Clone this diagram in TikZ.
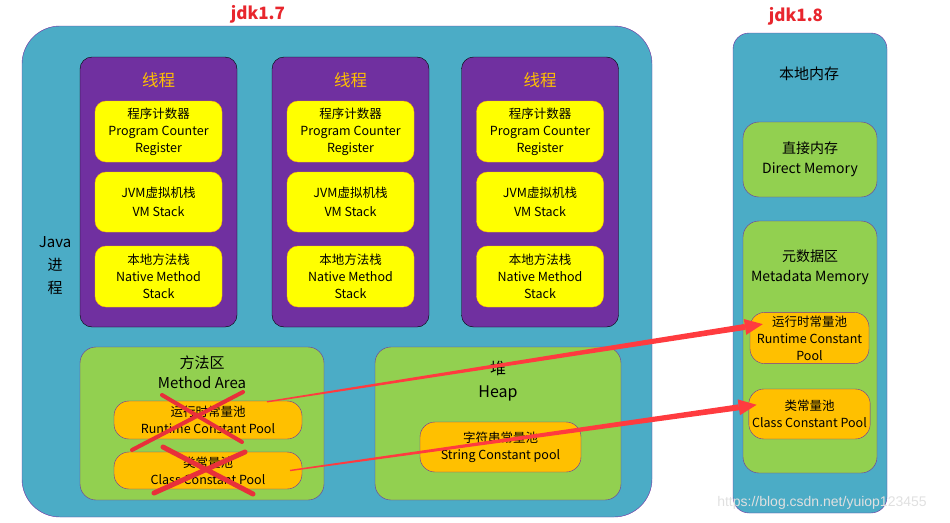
\documentclass[tikz,border=0pt]{standalone}
\usepackage{fontspec}
\setmainfont{Noto Sans CJK SC}
\newfontfamily\markfont{Liberation Sans}
\usetikzlibrary{calc}

\definecolor{procblue}{HTML}{4BACC6}
\definecolor{threadpurple}{HTML}{7030A0}
\definecolor{stackyellow}{HTML}{FFFF00}
\definecolor{areagreen}{HTML}{92D050}
\definecolor{poolorange}{HTML}{FFC000}
\definecolor{titlered}{HTML}{E8262D}
\definecolor{arrowred}{HTML}{FF3B3F}
\definecolor{crossred}{HTML}{E8303A}

\tikzset{
  process/.style={draw=threadpurple, fill=procblue, rounded corners=38pt},
  thread/.style={draw=black, fill=threadpurple, rounded corners=12pt,
    minimum width=157pt, minimum height=270pt},
  threadtitle/.style={text=poolorange, font=\fontsize{16.5}{18}\selectfont},
  stackbox/.style={draw=poolorange, fill=stackyellow, rounded corners=11pt,
    minimum width=127pt, minimum height=61pt, align=center,
    font=\fontsize{12.5}{17}\selectfont},
  areabox/.style={draw=threadpurple, fill=areagreen, rounded corners=16pt},
  poolbox/.style={draw=threadpurple, fill=poolorange, rounded corners=15pt,
    align=center, font=\fontsize{12.5}{17}\selectfont},
  areatitle/.style={align=center, font=\fontsize{15}{20}\selectfont},
  jdklabel/.style={text=titlered, font=\fontsize{17}{20}\selectfont\bfseries},
}

\begin{document}
\begin{tikzpicture}[x=1pt, y=-1pt]
\useasboundingbox (0,0) rectangle (950,522);

% jdk1.7
\node[jdklabel] (label7) at (258,14) {jdk1.7};
\node[process, minimum width=630pt, minimum height=491pt] (jdk7) at (337,271.5) {};
\node[align=center, font=\fontsize{15}{23}\selectfont] (javaproc) at (55,266) {Java\\进\\程};

\foreach \i/\x in {1/158.5,2/350.5,3/540} {
  \node[thread] (thread\i) at (\x,192) {};
  \node[threadtitle] (title\i) at (\x,80) {线程};
  \node[stackbox] (pc\i) at (\x,131.5) {程序计数器\\Program Counter\\Register};
  \node[stackbox, minimum height=60pt, font=\fontsize{12.5}{19}\selectfont] (vm\i) at (\x,202) {JVM虚拟机栈\\VM Stack};
  \node[stackbox] (native\i) at (\x,276.5) {本地方法栈\\Native Method\\Stack};
}

\node[areabox, minimum width=244pt, minimum height=153pt] (method) at (202,423.5) {};
\node[areatitle] (methodtitle) at (202,372) {方法区\\Method Area};
\node[poolbox, minimum width=188pt, minimum height=38pt] (rcp) at (208,420) {运行时常量池\\Runtime Constant Pool};
\node[poolbox, minimum width=188pt, minimum height=37pt] (ccp) at (208,470.5) {类常量池\\Class Constant Pool};

\node[areabox, minimum width=246pt, minimum height=153pt] (heap) at (498,423.5) {};
\node[areatitle, font=\fontsize{16}{23}\selectfont] (heaptitle) at (498,381) {堆\\Heap};
\node[poolbox, minimum width=161pt, minimum height=50pt] (scp) at (500.5,447) {字符串常量池\\String Constant pool};

% jdk1.8
\node[jdklabel] (label8) at (796,16) {jdk1.8};
\node[process, rounded corners=16pt, minimum width=154pt, minimum height=480pt] (jdk8) at (810,273) {};
\node[font=\fontsize{15}{18}\selectfont] (native) at (809,74) {本地内存};
\node[areabox, minimum width=134pt, minimum height=75pt, align=center,
  font=\fontsize{14}{20}\selectfont] (direct) at (810,159.5) {直接内存\\Direct Memory};
\node[areabox, minimum width=134pt, minimum height=252pt] (meta) at (810,347) {};
\node[areatitle, font=\fontsize{14}{20}\selectfont] (metatitle) at (810,267) {元数据区\\Metadata Memory};
\node[poolbox, minimum width=119pt, minimum height=50pt] (mrcp) at (809.5,338) {运行时常量池\\Runtime Constant\\Pool};
\node[poolbox, minimum width=119pt, minimum height=50pt] (mccp) at (809.5,414) {类常量池\\Class Constant Pool};

% crossed out in jdk1.8
\draw[crossred, line width=4pt, line cap=round] (162,395) -- (242,442);
\draw[crossred, line width=4pt, line cap=round] (243,392) -- (132,450);
\draw[crossred, line width=5pt, line cap=round] (163,447) -- (253,494);
\draw[crossred, line width=5pt, line cap=round] (245,452) -- (154,493);

% moved pools
\coordinate (from1) at ($(rcp.north)+(59,1)$);
\coordinate (to1) at ($(mrcp.north west)+(13,12)$);
\coordinate (from2) at ($(ccp.center)+(82,0)$);
\coordinate (to2) at ($(mccp.north west)+(8,16)$);
\foreach \a/\b in {from1/to1,from2/to2} {
  \coordinate (base) at ($(\b)!18pt!(\a)$);
  \fill[arrowred] ($(\a)!0.7pt!90:(base)$) -- ($(base)!3pt!-90:(\a)$)
    -- ($(base)!3pt!90:(\a)$) -- ($(\a)!0.7pt!-90:(base)$) -- cycle;
  \fill[arrowred] (\b) -- ($(base)!8pt!90:(\a)$) -- ($(base)!8pt!-90:(\a)$) -- cycle;
}

\node[text=black!12, font=\markfont\fontsize{14}{16}\selectfont] (mark) at (822,503) {https://blog.csdn.net/yuiop123455};
\end{tikzpicture}
\end{document}
